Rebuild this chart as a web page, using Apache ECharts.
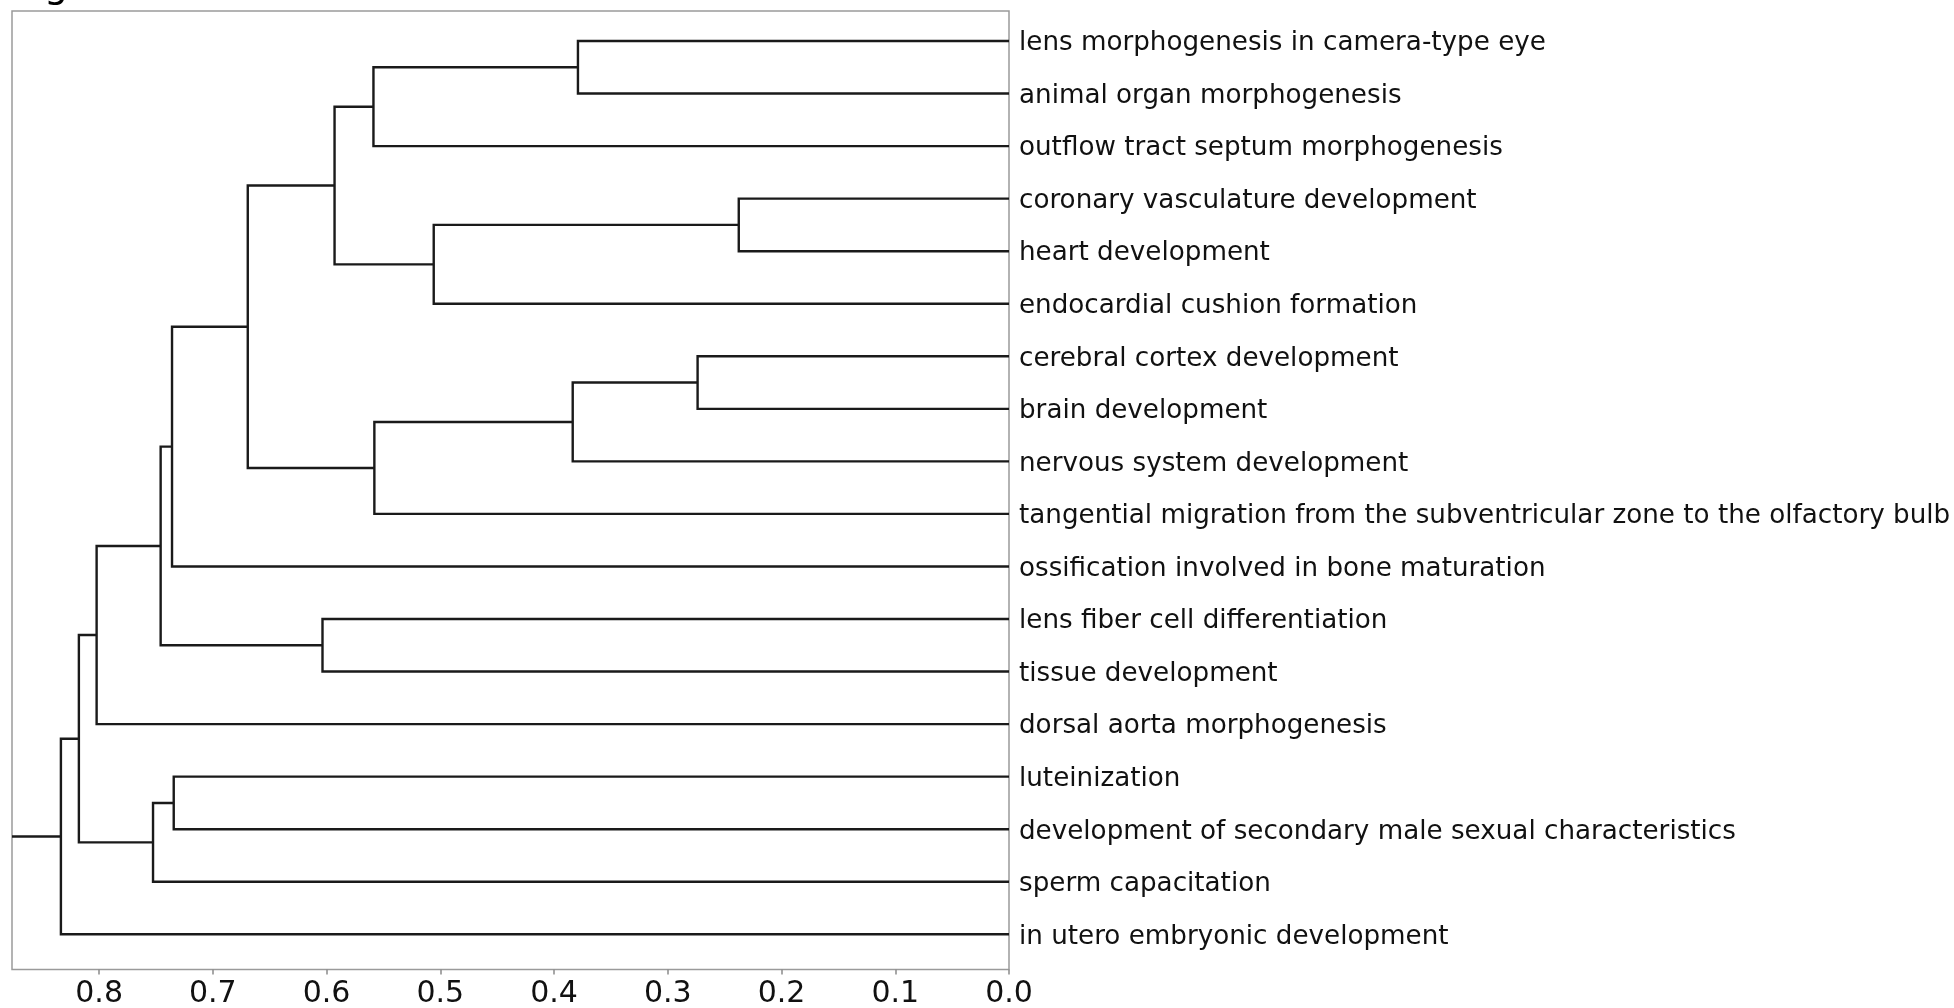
<!DOCTYPE html>
<html>
<head>
<meta charset="utf-8">
<title>GO term dendrogram</title>
<script src="https://cdn.jsdelivr.net/npm/echarts@6/dist/echarts.min.js"></script>
<style>
  html, body { margin: 0; padding: 0; background: #ffffff; }
  #chart { width: 1954px; height: 1008px; }
</style>
</head>
<body>
<div id="chart"></div>
<script>
// Leaf labels, listed top to bottom
const leafLabels = [
  'lens morphogenesis in camera-type eye',
  'animal organ morphogenesis',
  'outflow tract septum morphogenesis',
  'coronary vasculature development',
  'heart development',
  'endocardial cushion formation',
  'cerebral cortex development',
  'brain development',
  'nervous system development',
  'tangential migration from the subventricular zone to the olfactory bulb',
  'ossification involved in bone maturation',
  'lens fiber cell differentiation',
  'tissue development',
  'dorsal aorta morphogenesis',
  'luteinization',
  'development of secondary male sexual characteristics',
  'sperm capacitation',
  'in utero embryonic development'
];

// Linkage: each merge joins two clusters (leaf ids 0..17, merged ids from 18 on)
const mergeLeft  = [0, 18, 3, 20, 19, 6, 23, 24, 22, 26, 11, 27, 29, 14, 31, 30, 33];
const mergeRight = [1, 2, 4, 5, 21, 7, 8, 9, 25, 10, 12, 28, 13, 15, 16, 32, 17];
const mergeHeight = [0.379, 0.5588, 0.2376, 0.5058, 0.593, 0.2738, 0.3836, 0.558,
                     0.6693, 0.7359, 0.6036, 0.7459, 0.8022, 0.7344, 0.7526, 0.8178, 0.8336];

// Distance axis tick labels
const distanceTicks = [0, 0.1, 0.2, 0.3, 0.4, 0.5, 0.6, 0.7, 0.8];

// Build link shapes (scipy-style: leaf i sits at 5 + 10 * i)
const leafPos = leafLabels.map((_, i) => 5 + 10 * i);
const nodePos = leafPos.slice();
const nodeHeight = leafPos.map(() => 0);
const links = [];
for (let k = 0; k < mergeHeight.length; k++) {
  const a = mergeLeft[k], b = mergeRight[k], h = mergeHeight[k];
  links.push([nodePos[a], nodePos[b], nodeHeight[a], nodeHeight[b], h]);
  nodePos.push((nodePos[a] + nodePos[b]) / 2);
  nodeHeight.push(h);
}
const rootPos = nodePos[nodePos.length - 1];
const rootHeight = nodeHeight[nodeHeight.length - 1];

const xMax = 0.8766;
const labelFont = 'DejaVu Sans';
const linkColor = '#1a1a1a';

const chart = echarts.init(document.getElementById('chart'), null, { renderer: 'canvas' });

chart.setOption({
  animation: false,
  backgroundColor: '#ffffff',
  grid: {
    left: 12, top: 11, right: 945, bottom: 38.5,
    outerBoundsMode: 'none',
    containLabel: false,
    show: true, borderColor: '#9a9a9a', borderWidth: 1.5, backgroundColor: 'transparent'
  },
  xAxis: {
    type: 'value',
    position: 'bottom',
    inverse: true,
    min: 0, max: xMax,
    axisLine: { show: false, onZero: false },
    splitLine: { show: false },
    axisTick: {
      show: true, inside: false, length: 5,
      customValues: distanceTicks,
      lineStyle: { color: '#8a8a8a', width: 1.5 }
    },
    axisLabel: {
      customValues: distanceTicks,
      formatter: v => v.toFixed(1),
      margin: 10,
      fontFamily: labelFont, fontSize: 30, color: '#111111'
    }
  },
  yAxis: {
    type: 'value',
    position: 'right',
    inverse: true,
    min: -0.71, max: 181.7,
    axisLine: { show: false, onZero: false },
    splitLine: { show: false },
    axisTick: { show: false },
    axisLabel: {
      customValues: leafPos,
      formatter: v => leafLabels[Math.round((v - 5) / 10)],
      margin: 10,
      verticalAlign: 'top',
      lineHeight: 5,
      hideOverlap: false,
      fontFamily: labelFont, fontSize: 26.2, color: '#111111'
    }
  },
  graphic: [{
    type: 'text',
    x: 44, y: 6,
    style: {
      text: 'g', font: '38px "DejaVu Sans"', fill: '#000000',
      verticalAlign: 'bottom'
    },
    silent: true
  }],
  series: [{
    type: 'custom',
    coordinateSystem: 'cartesian2d',
    clip: false,
    encode: { x: [2, 3, 4], y: [0, 1] },
    data: links,
    renderItem: function (params, api) {
      const yA = api.value(0), yB = api.value(1);
      const hA = api.value(2), hB = api.value(3), h = api.value(4);
      const pts = [
        api.coord([hA, yA]),
        api.coord([h, yA]),
        api.coord([h, yB]),
        api.coord([hB, yB])
      ];
      return {
        type: 'polyline',
        shape: { points: pts },
        style: { stroke: linkColor, lineWidth: 2.4, fill: null, lineJoin: 'miter' }
      };
    }
  }, {
    // stub from the root to the left frame
    type: 'line',
    data: [[rootHeight, rootPos], [xMax, rootPos]],
    symbol: 'none',
    lineStyle: { color: linkColor, width: 2.4 },
    silent: true
  }]
});
</script>
</body>
</html>
